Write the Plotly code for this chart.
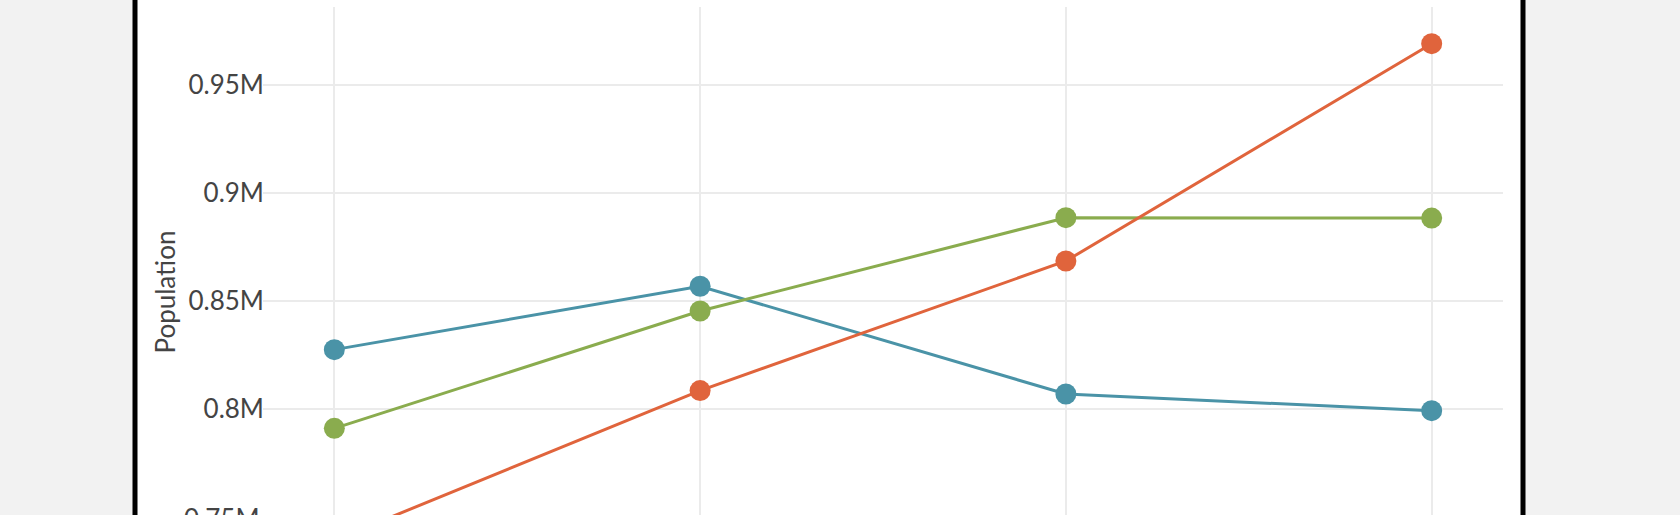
import plotly.graph_objects as go

# ---- data ----
categories = [0, 1, 2, 3]
series_names = ["Series A", "Series B", "Series C"]
blue_values = [827400, 856800, 806800, 799100]
green_values = [790900, 845300, 888600, 888400]
orange_values = [739000, 808400, 868500, 969300]
tick_vals = [750000, 800000, 850000, 900000, 950000]
tick_text = ["0.75M", "0.8M", "0.85M", "0.9M", "0.95M"]
y_title = "Population"

colors = ["#4a93a7", "#8aac4e", "#e0643c"]

W, H = 1680, 515
ML, MR, MT, MB = 263, 177, 7, 0
plot_w = W - ML - MR
plot_h = H - MT - MB

# y scale: 0.95M at px 85.3, 0.8M at px 408.7
units_per_px = 150000 / (408.7 - 85.3)
y_top = 950000 + (85.3 - MT) * units_per_px
y_bot = 950000 - (H - MB - 85.3) * units_per_px

fig = go.Figure()
for name, vals, c in zip(series_names, [blue_values, green_values, orange_values], colors):
    fig.add_trace(go.Scatter(
        x=categories, y=vals, name=name, mode="lines+markers",
        line=dict(color=c, width=3),
        marker=dict(color=c, size=21),
        cliponaxis=False,
    ))

font_family = "Lato"
text_color = "#444444"

def px_to_paper_x(px):
    return (px - ML) / plot_w

def px_to_paper_y(py):
    return (H - MB - py) / plot_h

annotations = [
    dict(text=y_title, textangle=-90, xref="paper", yref="paper",
         x=px_to_paper_x(164), y=px_to_paper_y(292.5),
         xanchor="center", yanchor="middle", showarrow=False,
         font=dict(family=font_family, size=26, color=text_color)),
    # partially visible lowest tick label (its tick lies just below the view)
    dict(text=tick_text[0], xref="paper", yref="paper",
         x=0, y=(tick_vals[0] - y_bot) / (y_top - y_bot),
         xanchor="right", yanchor="middle", xshift=-1, yshift=-2, showarrow=False,
         font=dict(family=font_family, size=26, color=text_color)),
]

shapes = [
    dict(type="rect", xref="paper", yref="paper", layer="below",
         x0=px_to_paper_x(135), x1=px_to_paper_x(1523), y0=-0.5, y1=1.6,
         fillcolor="white", line=dict(color="black", width=5)),
]

fig.update_layout(
    width=W, height=H,
    margin=dict(l=ML, r=MR, t=MT, b=MB, pad=0),
    paper_bgcolor="#f2f2f2",
    plot_bgcolor="white",
    showlegend=False,
    font=dict(family=font_family, size=26, color=text_color),
    xaxis=dict(range=[-0.195, 3.195], tickvals=categories, showticklabels=False,
               showgrid=True, gridcolor="#ebebeb", gridwidth=2,
               zeroline=False, showline=False, ticks=""),
    yaxis=dict(range=[y_bot, y_top], tickvals=tick_vals, ticktext=tick_text,
               showgrid=True, gridcolor="#ebebeb", gridwidth=2,
               zeroline=False, showline=False, ticks="", ticklabelstandoff=-2,
               tickfont=dict(family=font_family, size=26, color=text_color)),
    annotations=annotations,
    shapes=shapes,
)

fig.write_html("out.html", config={"displayModeBar": False},
               post_script="document.body.style.margin='0';document.body.style.overflow='hidden';")
